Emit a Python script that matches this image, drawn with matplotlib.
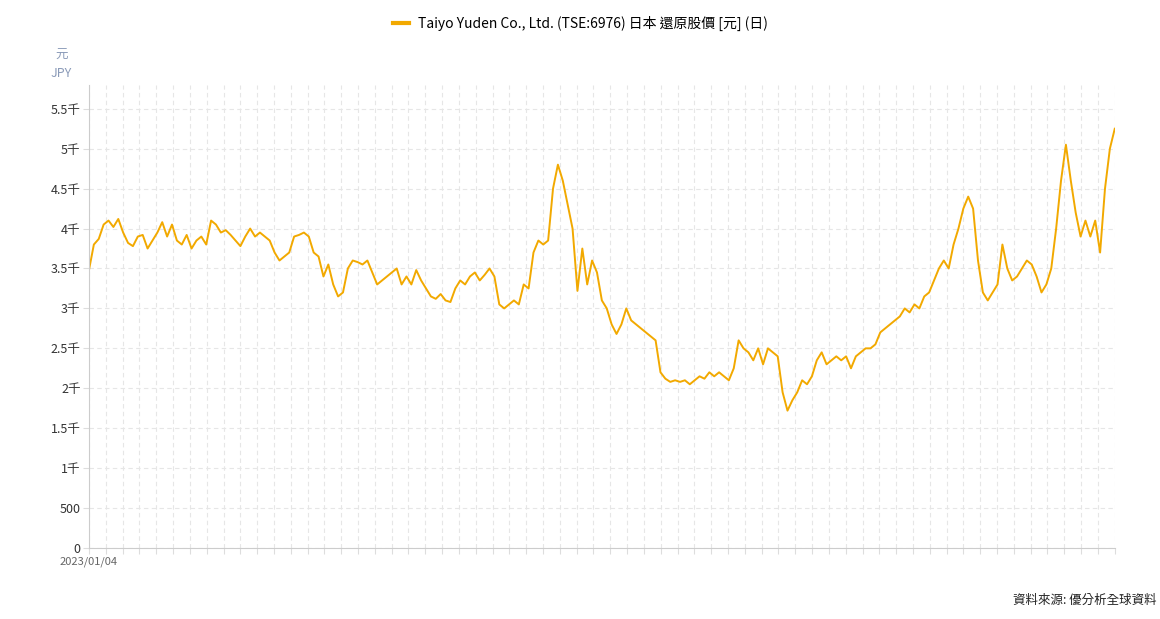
import matplotlib
matplotlib.use("Agg")
import matplotlib.pyplot as plt
import numpy as np

plt.rcParams['font.family'] = ['Noto Sans CJK TC', 'DejaVu Sans']

series_name = "Taiyo Yuden Co., Ltd. (TSE:6976) 日本 還原股價 [元] (日)"
start_label = "2023/01/04"
prices = [3480,3800,3870,4050,4100,4020,4120,3950,3820,3780,3900,3920,3750,3850,3950,4080,3900,4050,3850,3800,
          3920,3750,3850,3900,3800,4100,4050,3950,3980,3920,3850,3780,3900,4000,3900,3950,3900,3850,3700,3600,
          3650,3700,3900,3920,3950,3900,3700,3650,3400,3550,3300,3150,3200,3500,3600,3580,3550,3600,3450,3300,
          3350,3400,3450,3500,3300,3400,3300,3480,3350,3250,3150,3120,3180,3100,3080,3250,3350,3300,3400,3450,
          3350,3420,3500,3400,3050,3000,3050,3100,3050,3300,3250,3700,3850,3800,3850,4500,4800,4600,4300,4000,
          3220,3750,3300,3600,3450,3100,3000,2800,2680,2800,3000,2850,2800,2750,2700,2650,2600,2200,2120,2080,
          2100,2080,2100,2050,2100,2150,2120,2200,2150,2200,2150,2100,2250,2600,2500,2450,2350,2500,2300,2500,
          2450,2400,1950,1720,1850,1950,2100,2050,2150,2350,2450,2300,2350,2400,2350,2400,2250,2400,2450,2500,
          2500,2550,2700,2750,2800,2850,2900,3000,2950,3050,3000,3150,3200,3350,3500,3600,3500,3800,4000,4250,
          4400,4250,3600,3200,3100,3200,3300,3800,3500,3350,3400,3500,3600,3550,3400,3200,3300,3500,4000,4600,
          5050,4600,4200,3900,4100,3900,4100,3700,4500,5000,5250]
y_ticks = [0,500,1000,1500,2000,2500,3000,3500,4000,4500,5000,5500]
y_labels = ["0","500","1千","1.5千","2千","2.5千","3千","3.5千","4千","4.5千","5千","5.5千"]

fig = plt.figure(figsize=(11.6,6.19), dpi=100)
ax = fig.add_axes([0.0767,0.1147,0.8843,0.7483])
x = np.arange(len(prices))
ax.plot(x, prices, color='#f2a900', lw=1.4, label=series_name)
ax.set_xlim(0, len(prices)-1)
ax.set_ylim(0, 5800)
ax.set_yticks(y_ticks, y_labels)
xt = np.linspace(0, len(prices)-1, 62)
ax.set_xticks(xt, [start_label]+[""]*(len(xt)-1))
ax.tick_params(axis='x', length=4, color='#dddddd', labelsize=8, labelcolor='#666666', pad=2)
ax.tick_params(axis='y', length=4, color='#dddddd', labelsize=9, labelcolor='#333333', pad=2)
ax.grid(True, color='#e6e6e6', ls=(0,(4,3)), lw=0.8)
for s in ['top','right']:
    ax.spines[s].set_visible(False)
ax.spines['left'].set_color('#cccccc')
ax.spines['bottom'].set_color('#cccccc')
fig.text(0.053, 0.905, "元", color='#8a9ab8', fontsize=9, ha='center')
fig.text(0.053, 0.875, "JPY", color='#8a9ab8', fontsize=9, ha='center')
leg = fig.legend(loc='upper center', bbox_to_anchor=(0.5, 0.995), frameon=False, fontsize=10,
           handlelength=1.2, handletextpad=0.6)
for h in leg.get_lines():
    h.set_linewidth(3)
fig.text(0.997, 0.025, "資料來源: 優分析全球資料", ha='right', fontsize=9, color='#222222')
fig.savefig("out.png", dpi=100)
